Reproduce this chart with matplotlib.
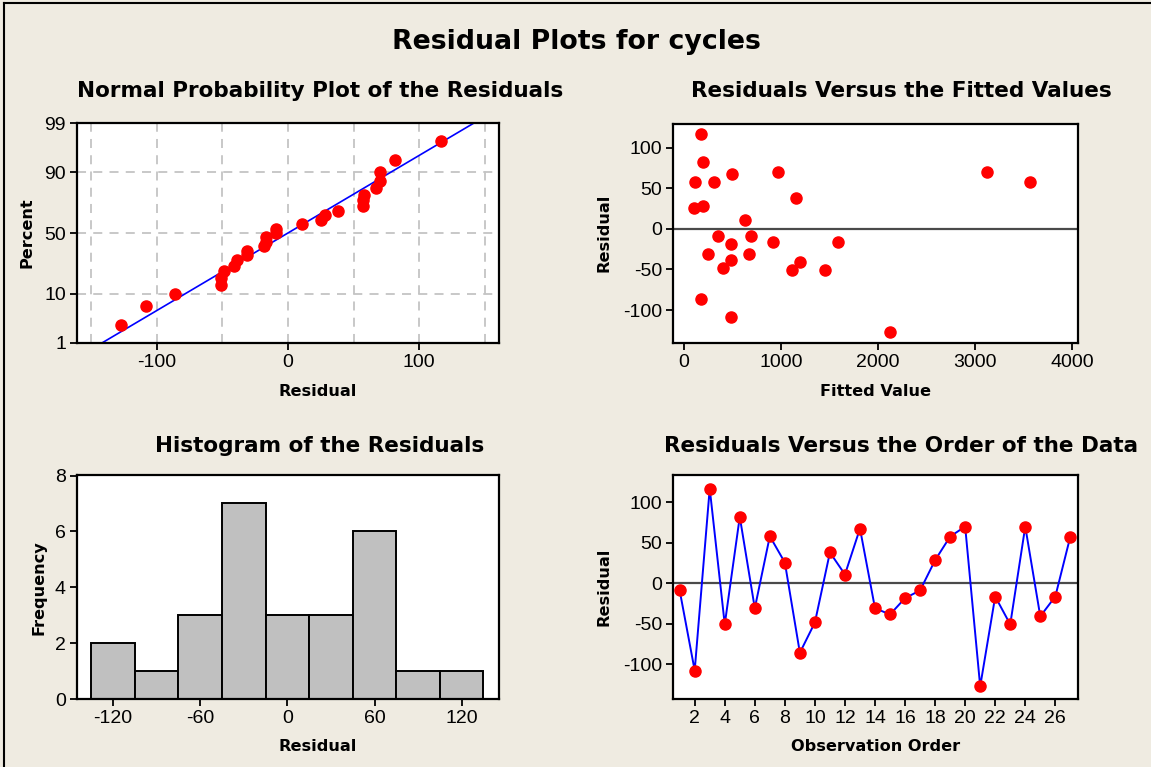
import numpy as np
import matplotlib
matplotlib.use("Agg")
import matplotlib.pyplot as plt
from matplotlib.lines import Line2D
from statistics import NormalDist

# residuals in observation order
residuals = [-9, -108, 117, -51, 82, -31, 58, 25.5, -86, -48.6,
             38, 10.7, 67.5, -31, -38.7, -18.5, -9, 28.4, 57.6, 70,
             -127.6, -16.5, -51, 70, -41, -16.5, 57.6]
# fitted values, same order
fitted = [347, 481, 178, 1116, 196, 251, 117, 100, 178, 405,
          1157, 628, 498, 666, 481, 481, 687, 196, 309, 968,
          2118, 913, 1456, 3118, 1191, 1590, 3567]

hist_centers = [-120, -90, -60, -30, 0, 30, 60, 90, 120]
hist_counts = [2, 1, 3, 7, 3, 3, 6, 1, 1]

pct_ticks = [1, 10, 50, 90, 99]

BG = "#efebe1"
W, H = 1151, 767
TICKFONT = "Liberation Sans"
BOLDFONT = "DejaVu Sans"
LABSIZE = 11.6

plt.rcParams["axes.unicode_minus"] = False

fig = plt.figure(figsize=(W / 100, H / 100), dpi=100, facecolor=BG)


def px_axes(l, t, r, b):
    return fig.add_axes([l / W, 1 - b / H, (r - l) / W, (b - t) / H])


def ftext(x, y, s, size, **kw):
    kw.setdefault("ha", "center")
    kw.setdefault("va", "baseline")
    fig.text(x / W, 1 - y / H, s, fontsize=size, fontweight="bold",
             family=BOLDFONT, **kw)


def style(ax):
    ax.set_facecolor("white")
    for sp in ax.spines.values():
        sp.set_linewidth(1.6)
        sp.set_color("black")
    ax.tick_params(direction="out", length=5, width=1.3, labelsize=14,
                   pad=3)
    for lab in ax.get_xticklabels() + ax.get_yticklabels():
        lab.set_family(TICKFONT)


# frame lines on top and left edge
fig.add_artist(Line2D([4 / W, 4 / W], [0, 1 - 3 / H], color="black", lw=1.5))
fig.add_artist(Line2D([4 / W, 1.01], [1 - 3 / H, 1 - 3 / H], color="black", lw=1.5))

ftext(576, 49, "Residual Plots for cycles", 19.3)

# ---- normal probability plot
nd = NormalDist()
res = np.array(residuals)
n = len(res)
srt = np.sort(res)
pp = (np.arange(1, n + 1) - 0.3) / (n + 0.4)
zz = np.array([nd.inv_cdf(p) for p in pp])
mu, sd = res.mean(), res.std(ddof=1)
zlo, zhi = nd.inv_cdf(0.01), nd.inv_cdf(0.99)

ax1 = px_axes(77, 123, 499, 343)
for x in np.arange(-150, 151, 50):
    ax1.axvline(x, color="#c4c4c4", lw=1.3, ls=(0, (5, 4)), zorder=0)
for p in [10, 50, 90]:
    ax1.axhline(nd.inv_cdf(p / 100), color="#c4c4c4", lw=1.3, ls=(0, (5, 4)), zorder=0)
zl = np.linspace(zlo, zhi, 50)
ax1.plot(mu + sd * zl, zl, color="blue", lw=1.2, zorder=2)
ax1.plot(srt, zz, "o", color="red", ms=8, mec="red", zorder=3)
ax1.set_xlim(-161, 161)
ax1.set_ylim(zlo, zhi)
ax1.set_xticks([-100, 0, 100])
ax1.set_yticks([nd.inv_cdf(p / 100) for p in pct_ticks])
ax1.set_yticklabels([str(p) for p in pct_ticks])
style(ax1)
ftext(320, 97, "Normal Probability Plot of the Residuals", 15.5)
ftext(318, 396, "Residual", LABSIZE)
ftext(27, 233, "Percent", LABSIZE, rotation=90, va="center")

# ---- residuals vs fitted
ax2 = px_axes(673, 124, 1078, 343)
ax2.axhline(0, color="#4a4a4a", lw=1.6, zorder=1)
ax2.plot(fitted, residuals, "o", color="red", ms=8, zorder=3)
ax2.set_xlim(-113, 4058)
ax2.set_ylim(-140.6, 129)
ax2.set_xticks([0, 1000, 2000, 3000, 4000])
ax2.set_yticks([-100, -50, 0, 50, 100])
style(ax2)
ftext(901, 97, "Residuals Versus the Fitted Values", 15.5)
ftext(876, 396, "Fitted Value", LABSIZE)
ftext(604, 233, "Residual", LABSIZE, rotation=90, va="center")

# ---- histogram
ax3 = px_axes(77, 475, 499, 699)
ax3.bar(hist_centers, hist_counts, width=30, color="#c0c0c0",
        edgecolor="black", lw=1.4, zorder=2)
ax3.set_xlim(-144.8, 145.7)
ax3.set_ylim(0, 8.02)
ax3.set_xticks([-120, -60, 0, 60, 120])
ax3.set_yticks([0, 2, 4, 6, 8])
style(ax3)
ftext(320, 452, "Histogram of the Residuals", 15.5)
ftext(318, 751, "Residual", LABSIZE)
ftext(39, 588, "Frequency", LABSIZE, rotation=90, va="center")

# ---- residuals vs order
order = np.arange(1, n + 1)
ax4 = px_axes(673, 475, 1078, 699)
ax4.axhline(0, color="#4a4a4a", lw=1.6, zorder=1)
ax4.plot(order, residuals, "-", color="blue", lw=1.4, zorder=2)
ax4.plot(order, residuals, "o", color="red", ms=8, zorder=3)
ax4.set_xlim(0.556, 27.51)
ax4.set_ylim(-143.2, 133.7)
ax4.set_xticks(np.arange(2, 27, 2))
ax4.set_yticks([-100, -50, 0, 50, 100])
style(ax4)
ftext(901, 452, "Residuals Versus the Order of the Data", 15.5)
ftext(876, 751, "Observation Order", LABSIZE)
ftext(604, 587, "Residual", LABSIZE, rotation=90, va="center")

fig.savefig("out.png", dpi=100, facecolor=BG)
